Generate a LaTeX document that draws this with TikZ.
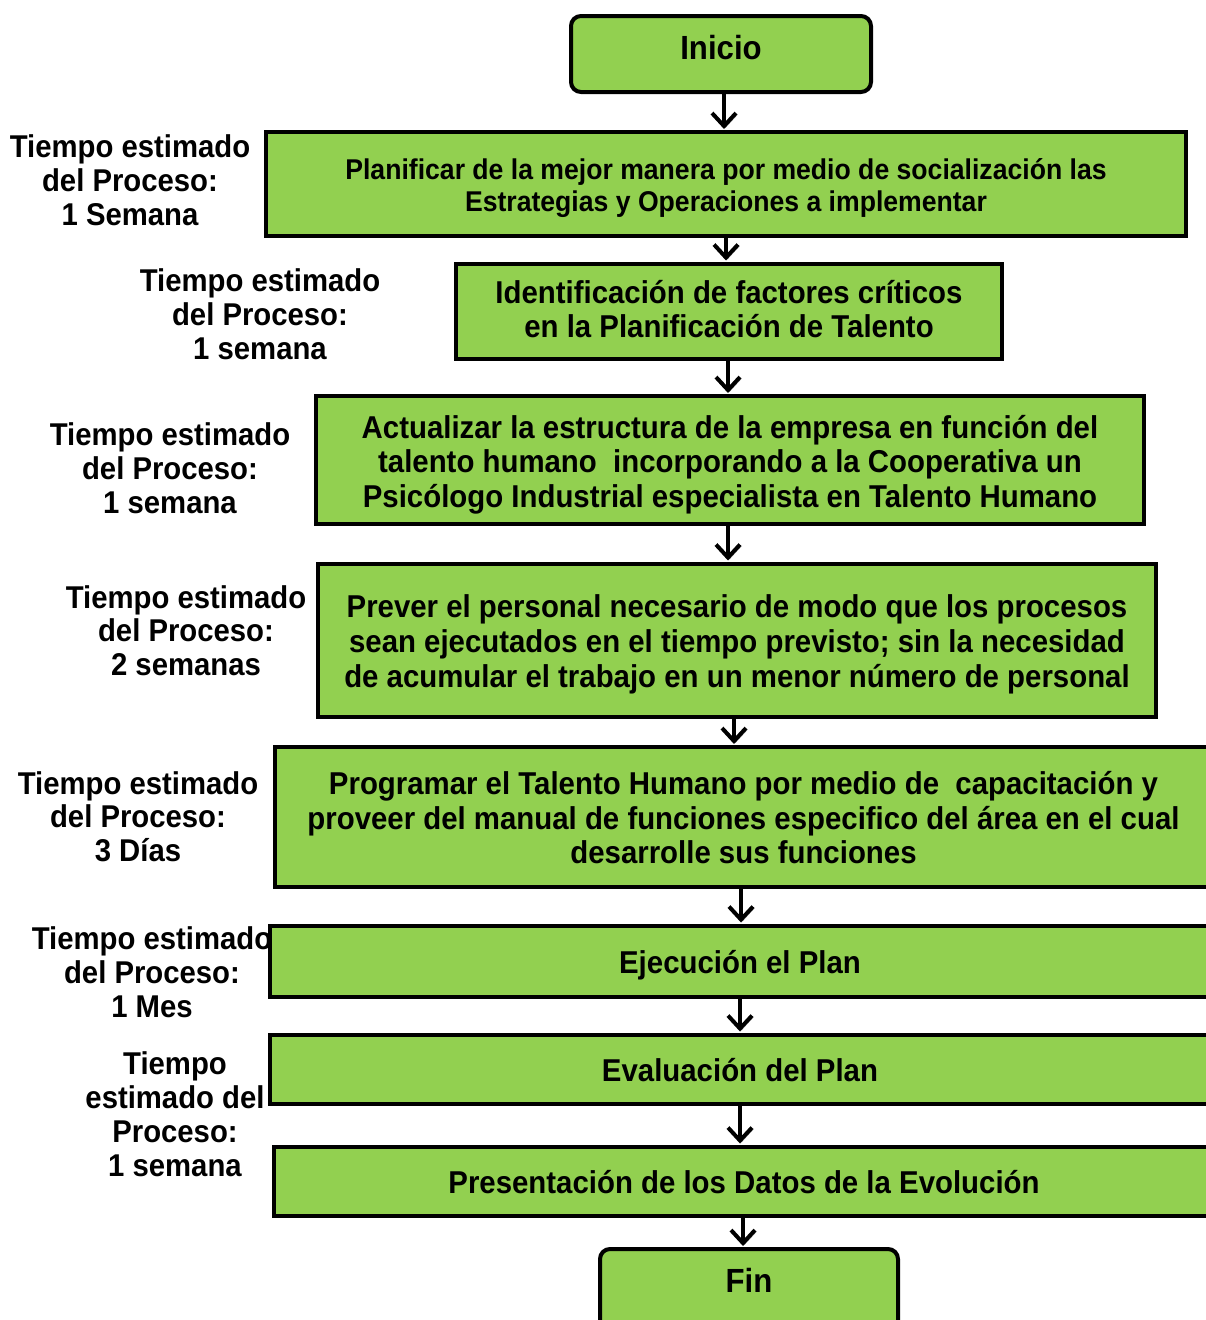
\documentclass[tikz,border=0pt]{standalone}
\usepackage{fontspec}
\setmainfont{Liberation Sans}[FakeStretch=0.93]
\usetikzlibrary{arrows.meta}
\definecolor{boxgreen}{RGB}{146,208,80}
\begin{document}
\begin{tikzpicture}[x=1pt,y=-1pt,
  boxw/.style={minimum width=#1, text width=#1},
  tpos/.style 2 args={text height=#1, text depth=#2},
  stepbox/.style={draw=black, line width=4pt, fill=boxgreen, align=flush center,
    inner sep=0pt, font=\bfseries\fontsize{31.6}{34.5}\selectfont},
  endbox/.style={stepbox, rounded corners=10pt, font=\bfseries\fontsize{33.5}{36}\selectfont},
  timelabel/.style={align=flush center, inner sep=0pt, text width=300pt, anchor=base,
    font=\bfseries\fontsize{31.5}{34}\selectfont},
  flow/.style={draw=black, line width=4pt, shorten >=1pt,
    -{Straight Barb[length=13pt,width=24pt]},
    preaction={draw=black!45, transform canvas={xshift=1.5pt, yshift=-1.5pt}}},
]
\useasboundingbox (0,0) rectangle (1205,1320);

% duration labels on the left (positioned at the first baseline)
\node[timelabel] (t1) at (130,157.3)  {Tiempo estimado\\del Proceso:\\1 Semana};
\node[timelabel] (t2) at (260,291.3)  {Tiempo estimado\\del Proceso:\\1 semana};
\node[timelabel] (t3) at (170,445.3)  {Tiempo estimado\\del Proceso:\\1 semana};
\node[timelabel, font=\bfseries\fontsize{31.5}{33.5}\selectfont] (t4) at (186,608.3)
  {Tiempo estimado\\del Proceso:\\2 semanas};
\node[timelabel, font=\bfseries\fontsize{31.5}{33.5}\selectfont] (t5) at (138,794.3)
  {Tiempo estimado\\del Proceso:\\3 Días};
\node[timelabel] (t6) at (152,949.3)  {Tiempo estimado\\del Proceso:\\1 Mes};
\node[timelabel] (t7) at (175,1074.3) {Tiempo\\estimado del\\Proceso:\\1 semana};

% process steps
\node[endbox, boxw=300pt, minimum height=76pt, tpos={20pt}{8.4pt}] (inicio) at (721,54) {Inicio};
\node[stepbox, boxw=920pt, minimum height=104pt, tpos={20pt}{29.5pt},
      font=\bfseries\fontsize{28.6}{32}\selectfont] (b1) at (726,184)
  {Planificar de la mejor manera por medio de socialización las\\Estrategias y Operaciones a implementar};
\node[stepbox, boxw=546pt, minimum height=95pt, tpos={20pt}{34.4pt},
      font=\bfseries\fontsize{31.6}{34}\selectfont] (b2) at (729,311)
  {Identificación de factores críticos\\en la Planificación de Talento};
\node[stepbox, boxw=828pt, minimum height=128pt, tpos={20pt}{63.4pt}] (b3) at (730,460)
  {Actualizar la estructura de la empresa en función del\\talento humano\ \ incorporando a la Cooperativa un\\Psicólogo Industrial especialista en Talento Humano};
\node[stepbox, boxw=838pt, minimum height=153pt, tpos={20pt}{65.4pt},
      font=\bfseries\fontsize{31.6}{35}\selectfont] (b4) at (737,640)
  {Prever el personal necesario de modo que los procesos\\sean ejecutados en el tiempo previsto; sin la necesidad\\de acumular el trabajo en un menor número de personal};
\node[stepbox, boxw=937pt, minimum height=140pt, tpos={20pt}{64.4pt}] (b5) at (743.5,817)
  {Programar el Talento Humano por medio de\ \ capacitación y\\proveer del manual de funciones especifico del área en el cual\\desarrolle sus funciones};
\node[stepbox, boxw=940pt, minimum height=71pt, tpos={40pt}{15.4pt}] (b6) at (740,961)
  {Ejecución el Plan};
\node[stepbox, boxw=940pt, minimum height=69pt, tpos={40pt}{14.4pt}] (b7) at (740,1069)
  {Evaluación del Plan};
\node[stepbox, boxw=940pt, minimum height=69pt, tpos={40pt}{15.4pt}] (b8) at (744,1181)
  {Presentación de los Datos de la Evolución};
\node[endbox, boxw=298pt, minimum height=82pt, tpos={20pt}{14.4pt}] (fin) at (749,1290) {Fin};

% connectors
\draw[flow] ([xshift=3pt]inicio.south) -- ([xshift=3pt]inicio.south |- b1.north);
\draw[flow] (b1.south) -- (b1.south |- b2.north);
\draw[flow] ([xshift=-1pt]b2.south) -- ([xshift=-1pt]b2.south |- b3.north);
\draw[flow] ([xshift=-2pt]b3.south) -- ([xshift=-2pt]b3.south |- b4.north);
\draw[flow] ([xshift=-3pt]b4.south) -- ([xshift=-3pt]b4.south |- b5.north);
\draw[flow] ([xshift=-2.5pt]b5.south) -- ([xshift=-2.5pt]b5.south |- b6.north);
\draw[flow] (b6.south) -- (b6.south |- b7.north);
\draw[flow] (b7.south) -- (b7.south |- b8.north);
\draw[flow] ([xshift=-1pt]b8.south) -- ([xshift=-1pt]b8.south |- fin.north);
\end{tikzpicture}
\end{document}
